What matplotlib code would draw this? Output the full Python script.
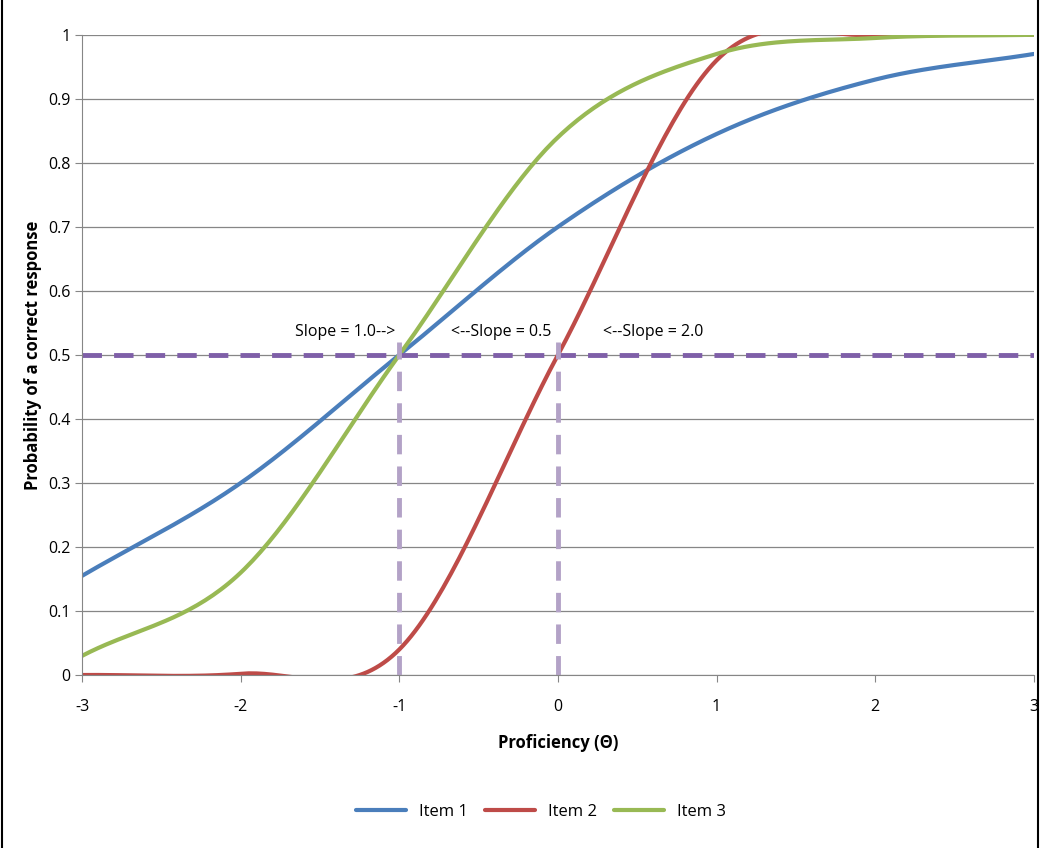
import numpy as np
import matplotlib
matplotlib.use("Agg")
import matplotlib.pyplot as plt
from matplotlib.patches import Rectangle

plt.rcParams["font.family"] = ["Open Sans", "DejaVu Sans"]
plt.rcParams["axes.unicode_minus"] = False

theta = [-3, -2, -1, 0, 1, 2, 3]
item1 = [0.155, 0.30, 0.50, 0.70, 0.845, 0.93, 0.97]
item2 = [0.0, 0.002, 0.04, 0.50, 0.96, 1.0, 1.0]
item3 = [0.03, 0.16, 0.50, 0.84, 0.97, 0.995, 1.0]
series = [("Item 1", item1, "#4a7ebb"), ("Item 2", item2, "#be4b48"), ("Item 3", item3, "#98b954")]
labels = [("Slope = 1.0-->", -1.34), ("<--Slope = 0.5", -0.36), ("<--Slope = 2.0", 0.6)]


def excel_smooth(x, y, n=40):
    # Catmull-Rom style curve, as Excel draws "smoothed line"
    x = np.asarray(x, float)
    y = np.asarray(y, float)
    m = np.gradient(y, x, edge_order=1)
    m[1:-1] = (y[2:] - y[:-2]) / (x[2:] - x[:-2])
    xs, ys = [], []
    for i in range(len(x) - 1):
        t = np.linspace(0, 1, n, endpoint=False)
        h = x[i + 1] - x[i]
        h00 = 2 * t**3 - 3 * t**2 + 1
        h10 = t**3 - 2 * t**2 + t
        h01 = -2 * t**3 + 3 * t**2
        h11 = t**3 - t**2
        xs.append(x[i] + t * h)
        ys.append(h00 * y[i] + h10 * h * m[i] + h01 * y[i + 1] + h11 * h * m[i + 1])
    xs.append([x[-1]])
    ys.append([y[-1]])
    return np.concatenate(xs), np.concatenate(ys)


fig = plt.figure(figsize=(10.4, 8.48), dpi=100)
ax = fig.add_axes([0.079, 0.204, 0.915, 0.755])

for name, vals, color in series:
    sx, sy = excel_smooth(theta, vals)
    ax.plot(sx, sy, color=color, linewidth=3, label=name, solid_capstyle="round")

ax.plot([-3, 3], [0.5, 0.5], color="#7f5fa8", linewidth=3.5, dashes=(4, 2.5))
for xv in [-1, 0]:
    ax.plot([xv, xv], [0, 0.52], color="#b3a2c7", linewidth=3.5, dashes=(4, 2.5))

for text, xv in labels:
    ax.text(xv, 0.523, text, ha="center", va="bottom", fontsize=11.5)

ax.set_xlim(-3, 3)
ax.set_ylim(0, 1)
ax.set_yticks(np.arange(0, 1.01, 0.1))
ax.set_yticklabels(["0", "0.1", "0.2", "0.3", "0.4", "0.5", "0.6", "0.7", "0.8", "0.9", "1"])
ax.set_xticks(theta)
ax.tick_params(labelsize=11.5, direction="out", length=5, color="#868686")
ax.tick_params(axis="x", pad=12)
ax.grid(axis="y", color="#868686", linewidth=0.9)
ax.set_axisbelow(True)
for side in ["top", "right"]:
    ax.spines[side].set_visible(False)
for side in ["left", "bottom"]:
    ax.spines[side].set_color("#868686")
ax.set_xlabel("Proficiency (Θ)", fontsize=12, fontweight="bold", labelpad=14)
ax.set_ylabel("Probability of a correct response", fontsize=12, fontweight="bold")

fig.legend(loc="lower center", bbox_to_anchor=(0.52, 0.015), ncol=3, frameon=False,
           fontsize=12, handlelength=3, columnspacing=1.0)
fig.patches.append(Rectangle((0.002, -0.01), 0.996, 1.02, transform=fig.transFigure,
                             fill=False, edgecolor="black", linewidth=1.5))

fig.savefig("out.png", dpi=100)
